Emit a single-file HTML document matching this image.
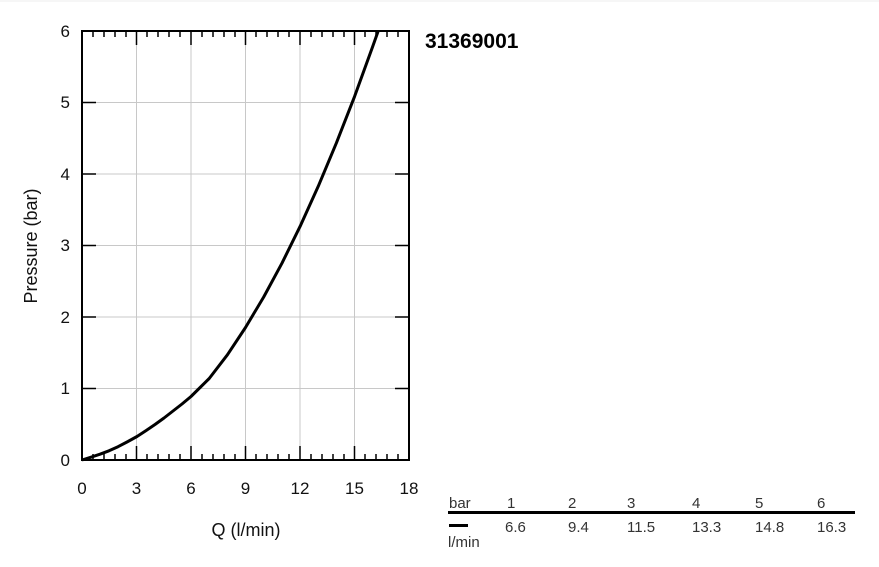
<!DOCTYPE html>
<html><head><meta charset="utf-8"><style>
body{margin:0;background:#fff;}
svg{display:block;font-family:"Liberation Sans",Arial,sans-serif;}
</style></head><body>
<svg width="879" height="567" viewBox="0 0 879 567" xmlns="http://www.w3.org/2000/svg">
<line x1="0" y1="1" x2="879" y2="1" stroke="#eee"/>
<g stroke="#c8c8c8" stroke-width="1">
<line x1="136.5" y1="31" x2="136.5" y2="460"/>
<line x1="191" y1="31" x2="191" y2="460"/>
<line x1="245.5" y1="31" x2="245.5" y2="460"/>
<line x1="300" y1="31" x2="300" y2="460"/>
<line x1="354.5" y1="31" x2="354.5" y2="460"/>
<line x1="82" y1="388.5" x2="409" y2="388.5"/>
<line x1="82" y1="317" x2="409" y2="317"/>
<line x1="82" y1="245.5" x2="409" y2="245.5"/>
<line x1="82" y1="174" x2="409" y2="174"/>
<line x1="82" y1="102.5" x2="409" y2="102.5"/>
</g>
<g stroke="#000" stroke-width="1.5">
<path d="M136.5 31v14M191 31v14M245.5 31v14M300 31v14M354.5 31v14M136.5 460v-14M191 460v-14M245.5 460v-14M300 460v-14M354.5 460v-14"/>
<path d="M82 388.5h14M82 317h14M82 245.5h14M82 174h14M82 102.5h14M409 388.5h-14M409 317h-14M409 245.5h-14M409 174h-14M409 102.5h-14"/>
<path d="M93 31v6M104 31v6M115 31v6M126 31v6M147 31v6M158 31v6M169 31v6M180 31v6M202 31v6M213 31v6M224 31v6M235 31v6M256 31v6M267 31v6M278 31v6M289 31v6M311 31v6M322 31v6M333 31v6M344 31v6M365 31v6M376 31v6M387 31v6M398 31v6
M93 460v-6M104 460v-6M115 460v-6M126 460v-6M147 460v-6M158 460v-6M169 460v-6M180 460v-6M202 460v-6M213 460v-6M224 460v-6M235 460v-6M256 460v-6M267 460v-6M278 460v-6M289 460v-6M311 460v-6M322 460v-6M333 460v-6M344 460v-6M365 460v-6M376 460v-6M387 460v-6M398 460v-6"/>
</g>
<rect x="82" y="31" width="327" height="429" fill="none" stroke="#000" stroke-width="2"/>
<polyline points="82,460 91,457.2 100,454.2 109,450.8 118,446.7 127,442 137,436.5 146,430.6 155,424.5 164,418 173,411 182,404 191,396.5 209.2,378.5 227.4,354.8 245.5,327.5 263.7,297 281.9,263.3 300,226.6 318.2,186.4 336.4,142.9 354.6,96.4 372.7,46.5 378.2,31" fill="none" stroke="#000" stroke-width="3" stroke-linejoin="round"/>
<g font-size="17" fill="#111">
<text x="70" y="466" text-anchor="end">0</text>
<text x="70" y="394" text-anchor="end">1</text>
<text x="70" y="323" text-anchor="end">2</text>
<text x="70" y="251" text-anchor="end">3</text>
<text x="70" y="180" text-anchor="end">4</text>
<text x="70" y="108" text-anchor="end">5</text>
<text x="70" y="37" text-anchor="end">6</text>
<g text-anchor="middle">
<text x="82" y="494">0</text><text x="136.5" y="494">3</text><text x="191" y="494">6</text>
<text x="245.5" y="494">9</text><text x="300" y="494">12</text><text x="354.5" y="494">15</text><text x="409" y="494">18</text>
<text x="246" y="536" font-size="18">Q (l/min)</text>
</g>
<text transform="translate(37,246) rotate(-90)" text-anchor="middle" font-size="18">Pressure (bar)</text>
<text x="425" y="48" font-size="21" font-weight="bold" fill="#000">31369001</text>
</g>
<g font-size="15" fill="#333">
<text x="449" y="508">bar</text>
<text x="507" y="508">1</text><text x="568" y="508">2</text><text x="627" y="508">3</text>
<text x="692" y="508">4</text><text x="755" y="508">5</text><text x="817" y="508">6</text>
<text x="505" y="532">6.6</text><text x="568" y="532">9.4</text><text x="627" y="532">11.5</text>
<text x="692" y="532">13.3</text><text x="755" y="532">14.8</text><text x="817" y="532">16.3</text>
<text x="448" y="547">l/min</text>
</g>
<rect x="448" y="511" width="407" height="3" fill="#000"/>
<rect x="449" y="524" width="19" height="3" fill="#000"/>
</svg>
</body></html>
